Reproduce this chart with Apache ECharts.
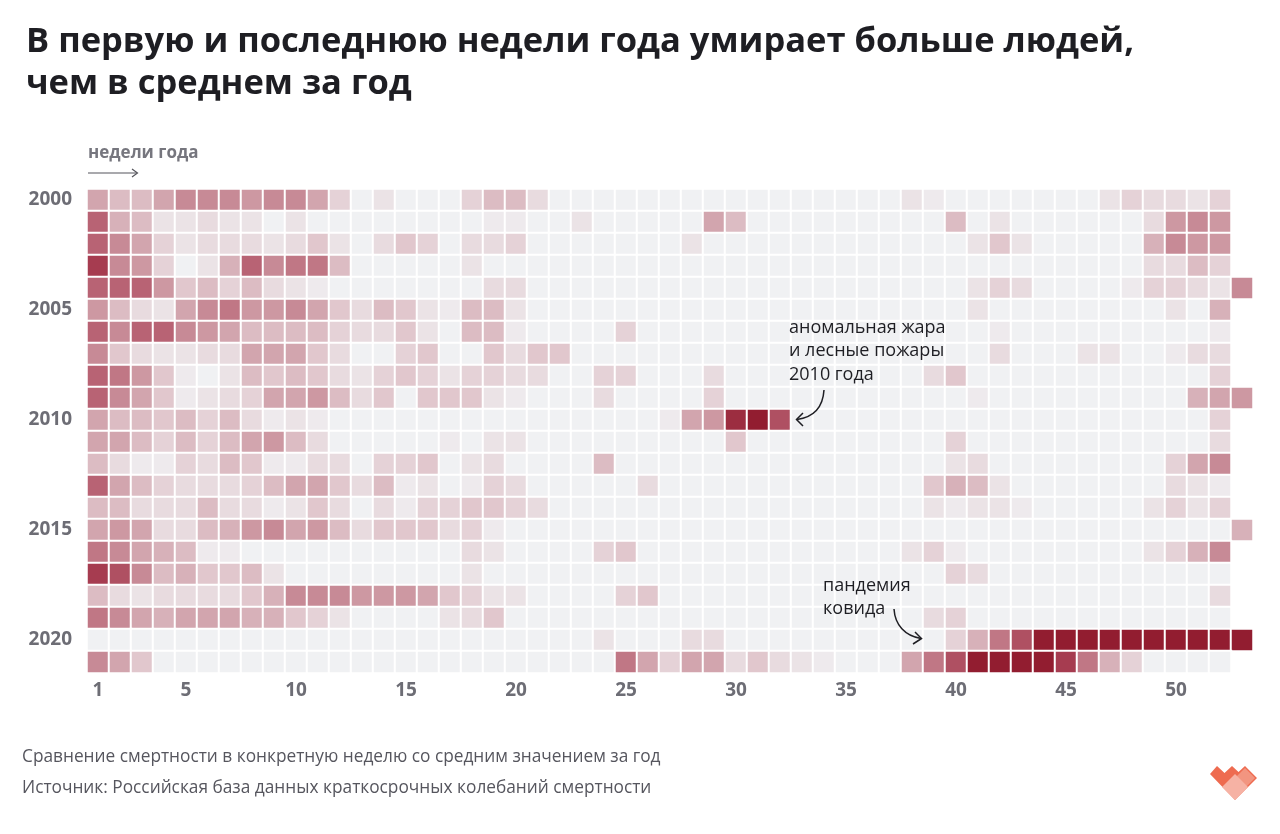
<!DOCTYPE html>
<html><head><meta charset="utf-8">
<script src="https://cdn.jsdelivr.net/npm/echarts@6/dist/echarts.min.js"></script>
<style>html,body{margin:0;padding:0;background:#fff}#c{width:1280px;height:834px}</style>
</head><body><div id="c"></div>
<script>
const years = ['2000','2001','2002','2003','2004','2005','2006','2007','2008','2009','2010','2011','2012','2013','2014','2015','2016','2017','2018','2019','2020','2021'];
const weeks = ['1','2','3','4','5','6','7','8','9','10','11','12','13','14','15','16','17','18','19','20','21','22','23','24','25','26','27','28','29','30','31','32','33','34','35','36','37','38','39','40','41','42','43','44','45','46','47','48','49','50','51','52','53'];
const yearTicks = ['2000','2005','2010','2015','2020'];
const weekTicks = ['1','5','10','15','20','25','30','35','40','45','50'];

// excess-mortality level per week (0 = at/below average, 8 = highest)
const w2000 = [4,3,3,4,5,5,5,4.5,5,5,4,2,0, 1,0,0,0,2,3,3,1.5,0,0,0,0,0, 0,0,0,0,0,0,0,0,0,0,0,1,0.5, 0,0,0,0,0,0,0,1,2,1.5,1.5,1,2];
const w2001 = [6,3.5,3,1,1,1.5,1,1,0,1,0,0,0, 0,0,0,0,0,0.5,0.5,0,0,1,0,0,0, 0,0,4,3,0,0,0,0,0,0,0,0,0, 3,0,1,0,0,0,0,0,0,1.5,4.5,5,4.5];
const w2002 = [6,5,4,2,1,1.5,1.5,1.5,1,1.5,2.5,1,0, 1.5,2.5,2,0,1.5,1.5,2,0,0,0,0,0,0, 0,1,0,0,0,0,0,0,0,0,0,0,0, 0,1,2.5,1,0,0,0,0,0,3.5,5,4.5,4.5];
const w2003 = [7,5,4.5,2,0,1,3.5,6,5,5.5,5.5,3,0, 0,0,0,0,1,0,0,0,0,0,0,0,0, 0,0,0,0,0,0,0,0,0,0,0,0,0, 0,0,0,0,0,0,0,0,0,1.5,1.5,3,2];
const w2004 = [6,6,6,4.5,2.5,3,2,3,1.5,1,0.5,0,0, 0,0,0,0,0,1.5,1.5,0,0,0,0,0,0, 0,0,0,0,0,0,0,0,0,0,0,0,0, 0,1,2,1.5,0,0,0,0,0.5,2,2,1.5,1,5];
const w2005 = [4.5,3,1.5,1,4,5,5.5,4.5,4.5,5,4,2.5,1.5, 3,2.5,1,0.5,3,3,1,0,0,0,0,0,0, 0,0,0,0,0,0,0,0,0,0,0,0,0, 0,1,0,0,0,0,0,0,0,0,1,0,3.5];
const w2006 = [6,5,6,6,5,4.5,4,3,3,3,3,2,1.5, 1.5,2.5,1,0,3,3,0.5,0,0,0,0,2,0, 0,0,0,0,0,0,0,0,0,0,0,0,0, 0,0,0.5,0,0,0,0,0,0,0,0,0,0.5];
const w2007 = [5,2.5,1.5,1,1,1.5,1.5,4,4,4,2.5,1.5,0, 0,2,2.5,0,0,2.5,1.5,2.5,2.5,0,0,0,0, 0,0,0,0,0,0,0,0,0,0,0,0,0, 0,0,1.5,0,0,0,1,1,0,0,0.5,1.5,1.5];
const w2008 = [6,5.5,4.5,2.5,0.5,0,1,3,2.5,3,2.5,1.5,1, 2,2.5,2,1,2,2,1.5,1.5,0,0,2,2,0, 0,0,1.5,0,0,0,0,0,0,0,0,0,1.5, 2.5,0,0,0,0,0,0,0,0,0,0,0,2];
const w2009 = [6,5,4,2.5,0.5,1,1.5,2,4,4,4.5,3,1.5, 2.5,0,2.5,2.5,2.5,1,0.5,0,0,0,1.5,0,0, 0,0,2,0,0,0,0,0,0,0,0,0,0, 0,0.5,0,0,0,0,0,0,0,0,0,3.5,4,4.5];
const w2010 = [4,3,3,2.5,3,2,3,1.5,0.5,1,0.5,0,0, 0,0,0,0,0,0,0,0,0,0,0,0,0, 0.5,4,4.5,7.5,8,6.5,0,0,0,0,0,0,0, 0,0,0,0,0,0,0,0,0,0,0,0,2];
const w2011 = [4,4,3,2,3,2,3,4,4.5,3,1.5,0,0, 0,0,0,0.5,0,1,1,0,0,0,0,0,0, 0,0,0,2.5,0,0,0,0,0,0,0,0,0, 2,0,0,0,0,0,0,0,0,0,0,0,1.5];
const w2012 = [3,1.5,0.5,0.5,2,1.5,3,2.5,0.5,0.5,1.5,1.5,0, 2,2,2.5,0,1,1.5,0,0,0,0,3,0,0, 0,0,0,0,0,0,0,0,0,0,0,0,0, 1,1.5,0,0,0,0,0,0,0,0,2,4,5];
const w2013 = [6,4,3,2,1.5,1.5,1.5,2,3,4,4,2.5,1.5, 3,0.5,1,0,0.5,2,1.5,0,0,0,0,0,1.5, 0,0,0,0,0,0,0,0,0,0,0,0,2.5, 3.5,3,1,0,0,0,0,0,0,0,1.5,1,0.5];
const w2014 = [3,3,1.5,1.5,1.5,3,1.5,1.5,0.5,1,2.5,1.5,0, 1.5,0.5,2,2,2.5,2.5,2,1.5,0,0,0,0,0, 0,0,0,0,0,0,0,0,0,0,0,0,1, 0.5,1,1,0.5,0,0,0,0,0,1,2,1,2];
const w2015 = [4,4.5,4,1.5,1.5,3,3.5,4.5,5,4,4.5,3,1.5, 2.5,2.5,2.5,1.5,2,0.5,0,0,0,0,0,0,0, 0,0,0,0,0,0,0,0,0,0,0,0,0, 0,0,0,0,0,0,0,0,0,0,0,0,0,3.5];
const w2016 = [5.5,5,4,3.5,3,0.5,0.5,0,0,0,0,0,0, 0,0,0,0,1.5,1,0,0,0,0,2,2.5,0, 0,0,0,0,0,0,0,0,0,0,0,1,2, 0.5,0,0,0,0,0,0,0,0,1,2,3.5,5];
const w2017 = [7,6.5,5,3,3.5,2.5,2.5,3,1,0,0,0,0, 0,0,0,0,1,0,0,0,0,0,0,0,0, 0,0,0,0,0,0,0,0,0,0,0,0,0, 2,1.5,0,0,0,0,0,0,0,0,0,0,0];
const w2018 = [3,1.5,1,1.5,1.5,1.5,1.5,2.5,3.5,5,5,5,4.5, 4.5,4.5,4,2.5,2,1,1,0,0,0,0,2,2.5, 0,0,0,0,0,0,0,0,0,0,0,0,0, 0,0,0,0,0,0,0,0,0,0,0,0,1.5];
const w2019 = [5.5,5,4,3.5,4,4,4,3.5,3.5,2.5,2,1,0, 0,0,0,1,1.5,2.5,0,0,0,0,0,0,0, 0,0,0,0,0,0,0,0,0,0,0,0,1.5, 2,0,0,0,0,0,0,0,0,0,0,0,0];
const w2020 = [0,0,0,0,0,0,0,0,0,0,0,0,0, 0,0,0,0,0,0,0,0,0,0,1,0,0, 0,1.5,1.5,0,0,0,0,0,0,0,0,0,0, 2,3.5,5.5,6.5,8,8,8,8,8,8,8,8,8,8];
const w2021 = [5,4,2.5,0,0,0,0,0,0,0,0,0,0, 0,0,0,0,0,0,0,0,0,0,0,5.5,4, 2,4,4,1.5,2.5,1.5,1,0.5,0,0,0,4,5.5, 6.5,8,8,8,8,7,5.5,3.5,2,0,0,0,0];

const byYear = [w2000,w2001,w2002,w2003,w2004,w2005,w2006,w2007,w2008,w2009,w2010,w2011,w2012,w2013,w2014,w2015,w2016,w2017,w2018,w2019,w2020,w2021];
const cells = [];
byYear.forEach((row, yi) => row.forEach((v, wi) => cells.push([wi, yi, v])));

const chart = echarts.init(document.getElementById('c'), null, {renderer: 'canvas'});
const F = '"Open Sans", "DejaVu Sans", sans-serif';
const LBL = '#6d6d75';
const INK = '#1e1e23';
chart.setOption({
  animation: false,
  backgroundColor: '#ffffff',
  title: {
    text: 'В первую и последнюю недели года умирает больше людей,\nчем в среднем за год',
    left: 21, top: 16,
    textStyle: {fontFamily: F, fontWeight: 'bold', fontSize: 34.5, lineHeight: 42, color: INK}
  },
  grid: {left: 87, top: 189, width: 1166, height: 484},
  xAxis: {
    type: 'category', data: weeks, position: 'bottom',
    axisLine: {show: false}, axisTick: {show: false}, splitLine: {show: false},
    axisLabel: {interval: 0, margin: 8, color: LBL, fontFamily: F, fontWeight: 'bold', fontSize: 19,
      formatter: v => weekTicks.includes(v) ? v : ''}
  },
  yAxis: {
    type: 'category', data: years, inverse: true,
    axisLine: {show: false}, axisTick: {show: false}, splitLine: {show: false},
    axisLabel: {interval: 0, margin: 15, color: LBL, fontFamily: F, fontWeight: 'bold', fontSize: 19,
      formatter: v => yearTicks.includes(v) ? v : ''}
  },
  visualMap: {
    show: false, type: 'continuous', min: 0, max: 8, dimension: 2,
    inRange: {color: ['#f0f1f3','#ebe3e6','#e5d2d7','#dcbcc3','#d2a5ae','#c78a96','#b86374','#a63c50','#921d30']}
  },
  series: [{
    type: 'heatmap', data: cells,
    itemStyle: {borderColor: '#ffffff', borderWidth: 2},
    emphasis: {disabled: true}, label: {show: false}
  }],
  graphic: {
    z: 100,
    elements: [
      {type: 'text', z: 100, left: 88, top: 145, style: {text: 'недели года', fill: '#76767e', font: 'bold 17px ' + F}},
      {type: 'line', z: 100, shape: {x1: 88, y1: 173, x2: 137, y2: 173}, style: {stroke: '#55555c', lineWidth: 1.2}},
      {type: 'polyline', z: 100, shape: {points: [[132, 169], [137.5, 173], [132, 177]]}, style: {stroke: '#55555c', lineWidth: 1.2, fill: null}},

      {type: 'text', z: 100, left: 789, top: 316, style: {text: 'аномальная жара\nи лесные пожары\n2010 года', fill: INK, font: '18px ' + F, lineHeight: 23.5}},
      {type: 'bezierCurve', z: 100, shape: {x1: 824, y1: 390, cpx1: 823, cpy1: 406, cpx2: 815, cpy2: 417, x2: 797, y2: 419.5}, style: {stroke: INK, lineWidth: 1.5, fill: null}},
      {type: 'polyline', z: 100, shape: {points: [[803, 413], [796.5, 419.5], [803, 426]]}, style: {stroke: INK, lineWidth: 1.5, fill: null}},

      {type: 'text', z: 100, left: 823, top: 575, style: {text: 'пандемия\nковида', fill: INK, font: '18px ' + F, lineHeight: 22.5}},
      {type: 'bezierCurve', z: 100, shape: {x1: 894, y1: 609, cpx1: 895, cpy1: 625, cpx2: 905, cpy2: 636, x2: 921, y2: 638.5}, style: {stroke: INK, lineWidth: 1.5, fill: null}},
      {type: 'polyline', z: 100, shape: {points: [[915, 632], [921.5, 638.5], [913, 644]]}, style: {stroke: INK, lineWidth: 1.5, fill: null}},

      {type: 'text', z: 100, left: 22, top: 749, style: {text: 'Сравнение смертности в конкретную неделю со средним значением за год', fill: '#56565e', font: '17.3px ' + F}},
      {type: 'text', z: 100, left: 22, top: 780, style: {text: 'Источник: Российская база данных краткосрочных колебаний смертности', fill: '#56565e', font: '17.3px ' + F}},

      {type: 'polygon', z: 100, shape: {points: [[1210, 774], [1217, 766], [1224.5, 773], [1232, 766], [1238.5, 772], [1245, 766], [1257, 778], [1235, 800]]}, style: {fill: '#ee6b50'}},
      {type: 'polygon', z: 100, shape: {points: [[1245, 768], [1255, 778], [1245, 788], [1235, 778]]}, style: {fill: '#f29580'}},
      {type: 'polygon', z: 100, shape: {points: [[1235, 774], [1248, 787], [1235, 800], [1222, 787]]}, style: {fill: '#f6b2a4'}}
    ]
  }
});
</script>
</body></html>
